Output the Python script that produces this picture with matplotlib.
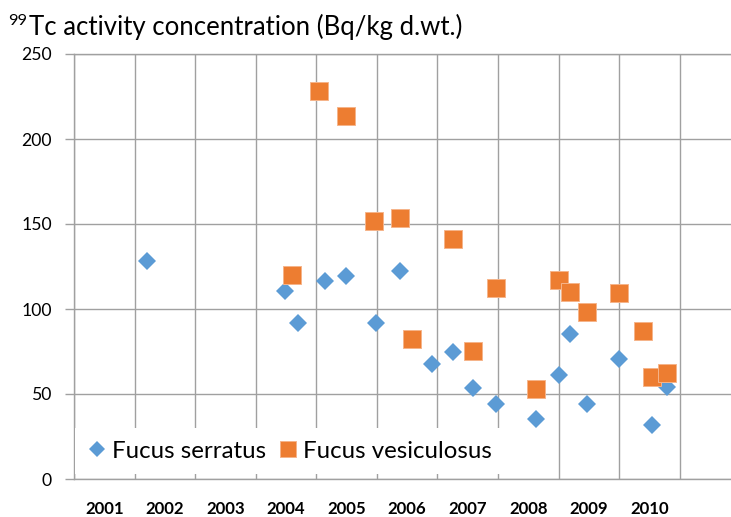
import matplotlib
matplotlib.use("Agg")
import matplotlib.pyplot as plt
from matplotlib.lines import Line2D

# ---- data ----
year_labels = ["2001", "2002", "2003", "2004", "2005", "2006", "2007", "2008", "2009", "2010"]
y_ticks = [0, 50, 100, 150, 200, 250]

serratus_time = [2002.21, 2004.49, 2004.69, 2005.15, 2005.49, 2005.99, 2006.38, 2006.91,
                 2007.25, 2007.58, 2007.96, 2008.62, 2009.00, 2009.19, 2009.47, 2010.00,
                 2010.54, 2010.80]
serratus_value = [128.4, 110.4, 91.6, 116.5, 119.6, 91.6, 122.5, 67.8,
                  74.9, 53.3, 44.1, 35.5, 61.2, 85.3, 43.9, 70.4,
                  31.8, 54.3]

vesiculosus_time = [2004.59, 2005.04, 2005.49, 2005.96, 2006.38, 2006.58, 2007.26, 2007.58,
                    2007.96, 2008.62, 2009.00, 2009.19, 2009.47, 2010.00, 2010.40, 2010.54,
                    2010.80]
vesiculosus_value = [120.2, 228.2, 213.5, 151.8, 153.7, 82.5, 141.2, 75.3,
                     112.5, 52.8, 117.1, 110.2, 98.1, 109.2, 87.1, 60.2,
                     62.5]

BLUE = "#5B9BD5"
ORANGE = "#ED7D31"
GRID = "#A0A0A0"
FONT = "Lato"

W, H = 731, 517
fig = plt.figure(figsize=(W / 100, H / 100), dpi=100)
renderer = fig.canvas.get_renderer()


def fit_size(s, target_px, **kw):
    t = fig.text(0, 0, s, fontsize=20, family=FONT, **kw)
    w = t.get_window_extent(renderer=renderer).width
    t.remove()
    return 20 * target_px / w


tick_fs = fit_size("250", 30.6)
year_fs = fit_size("2001", 39.0, fontweight="bold")
leg_fs = fit_size("Fucus serratus", 153.3)
title_fs = fit_size("Tc activity concentration (Bq/kg d.wt.)", 432.5)
sup_fs = fit_size("99", 19.0)

x0px, unit_px = 74.2, 60.54
x1px = x0px + 11 * unit_px
y0px, y1px = 479.0, 54.0
ax = fig.add_axes([x0px / W, (H - y0px) / H, (x1px - x0px) / W, (y0px - y1px) / H])
ax.set_xlim(2001, 2012)
ax.set_ylim(0, 250)

# grid
ax.set_xticks(range(2001, 2013))
ax.set_xticklabels([])
ax.tick_params(axis="x", which="major", length=0)
ax.set_xticks([2001.5 + i for i in range(len(year_labels))], minor=True)
ax.set_xticklabels(year_labels, minor=True, fontsize=year_fs, fontweight="bold",
                   family=FONT)
ax.tick_params(axis="x", which="minor", length=0, pad=16)
ax.set_yticks(y_ticks)
ax.set_yticklabels([str(v) for v in y_ticks], fontsize=tick_fs, family=FONT)
ax.tick_params(axis="y", length=6.5, width=1.0, color=GRID, pad=9.5)
ax.grid(True, which="major", color=GRID, linewidth=1.0)
ax.set_axisbelow(True)
for side in ["left", "bottom", "top"]:
    ax.spines[side].set_color(GRID)
    ax.spines[side].set_linewidth(1.0)
ax.spines["right"].set_visible(False)

ax.plot(serratus_time, serratus_value, linestyle="none", marker="D", markersize=9.5,
        color=BLUE, markeredgewidth=0, zorder=3)
ax.plot(vesiculosus_time, vesiculosus_value, linestyle="none", marker="s",
        markersize=13.6, color=ORANGE, markeredgecolor="#F6B48A", markeredgewidth=0.7,
        zorder=4)

handles = [
    Line2D([], [], linestyle="none", marker="D", markersize=9.5, color=BLUE,
           markeredgewidth=0),
    Line2D([], [], linestyle="none", marker="s", markersize=13.6, color=ORANGE,
           markeredgecolor="#F6B48A", markeredgewidth=0.7),
]
fs_px = leg_fs * 100 / 72
leg = fig.legend(handles, ["Fucus serratus", "Fucus vesiculosus"], ncol=2,
                 loc="center left", bbox_to_anchor=((x0px + 1.2) / W, (H - 451) / H),
                 prop={"family": FONT, "size": leg_fs}, markerscale=0.88,
                 handlelength=18 / fs_px, handletextpad=6 / fs_px,
                 columnspacing=12.7 / fs_px, borderpad=12.3 / fs_px,
                 borderaxespad=0, frameon=True, fancybox=False, framealpha=1,
                 facecolor="white", edgecolor="none")

fig.text(29 / W, (H - 35) / H, "Tc activity concentration (Bq/kg d.wt.)",
         fontsize=title_fs, family=FONT, va="baseline", ha="left")
fig.text(8.4 / W, (H - 25) / H, "99", fontsize=sup_fs, family=FONT, va="baseline",
         ha="left")

fig.savefig("out.png", dpi=100)
